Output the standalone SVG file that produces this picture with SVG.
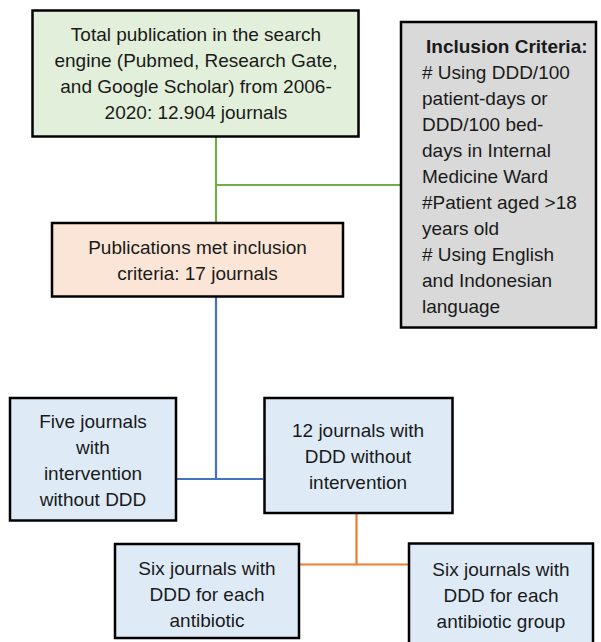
<svg xmlns="http://www.w3.org/2000/svg" width="601" height="642" viewBox="0 0 601 642">
<style>
.box{stroke:#000;stroke-width:2.5}
.t{font-family:"Liberation Sans",Arial,sans-serif;font-size:19px;fill:#1a1a1a}
.c{text-anchor:middle}
.b{font-weight:bold}
.ln{fill:none;stroke-width:2.2}
</style>
<rect width="601" height="642" fill="#fff"/>
<g id="connectors">
<path class="ln" stroke="#70ad47" d="M216 137V222M216 185H400"/>
<path class="ln" stroke="#4472c4" d="M216 297V479M177 479H263"/>
<path class="ln" stroke="#ed7d31" d="M356.5 514V564.5M300 564.5H408"/>
</g>
<g id="total">
<rect class="box" x="32.5" y="10.5" width="326" height="126" fill="#e2efda"/>
<text class="t c" x="196" y="41">Total publication in the search</text>
<text class="t c" x="196" y="67">engine (Pubmed, Research Gate,</text>
<text class="t c" x="196" y="93">and Google Scholar) from 2006-</text>
<text class="t c" x="196" y="119">2020: 12.904 journals</text>
</g>
<g id="criteria">
<rect class="box" x="401" y="22" width="195" height="305.5" fill="#d9d9d9"/>
<text class="t b" x="426" y="53">Inclusion Criteria:</text>
<text class="t" x="422" y="79"># Using DDD/100</text>
<text class="t" x="422" y="105">patient-days or</text>
<text class="t" x="422" y="131">DDD/100 bed-</text>
<text class="t" x="422" y="157">days in Internal</text>
<text class="t" x="422" y="183">Medicine Ward</text>
<text class="t" x="422" y="209">#Patient aged &gt;18</text>
<text class="t" x="422" y="235">years old</text>
<text class="t" x="422" y="261"># Using English</text>
<text class="t" x="422" y="287">and Indonesian</text>
<text class="t" x="422" y="313">language</text>
</g>
<g id="met">
<rect class="box" x="52" y="223" width="291" height="73.5" fill="#fbe5d6"/>
<text class="t c" x="197.5" y="253.5">Publications met inclusion</text>
<text class="t c" x="197.5" y="279.5">criteria: 17 journals</text>
</g>
<g id="five">
<rect class="box" x="10" y="398" width="166" height="122.5" fill="#deebf7"/>
<text class="t c" x="93" y="428">Five journals</text>
<text class="t c" x="93" y="454">with</text>
<text class="t c" x="93" y="480">intervention</text>
<text class="t c" x="93" y="506">without DDD</text>
</g>
<g id="twelve">
<rect class="box" x="264.5" y="398" width="188" height="115" fill="#deebf7"/>
<text class="t c" x="358" y="437">12 journals with</text>
<text class="t c" x="358" y="463">DDD without</text>
<text class="t c" x="358" y="489">intervention</text>
</g>
<g id="six-antibiotic">
<rect class="box" x="115" y="544" width="184" height="94" fill="#deebf7"/>
<text class="t c" x="207" y="575">Six journals with</text>
<text class="t c" x="207" y="601">DDD for each</text>
<text class="t c" x="207" y="627">antibiotic</text>
</g>
<g id="six-group">
<rect class="box" x="409" y="543.5" width="184" height="110" fill="#deebf7"/>
<text class="t c" x="501" y="576">Six journals with</text>
<text class="t c" x="501" y="602">DDD for each</text>
<text class="t c" x="501" y="627.5">antibiotic group</text>
</g>
</svg>
